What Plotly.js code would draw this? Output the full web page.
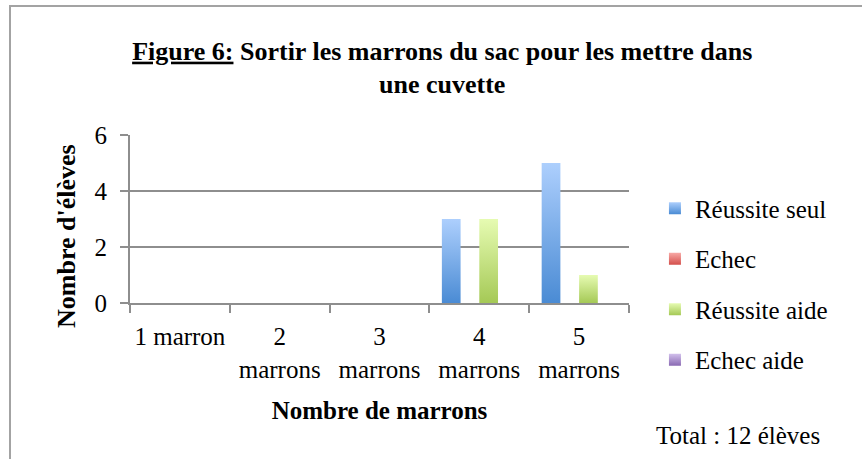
<!DOCTYPE html>
<html>
<head>
<meta charset="utf-8">
<script src="https://cdn.plot.ly/plotly-3.0.1.min.js"></script>
<style>
  html, body { margin: 0; padding: 0; background: #ffffff; overflow: hidden; }
  #wrap { position: relative; width: 862px; height: 459px; }
  #chart { width: 862px; height: 459px; }
  #frame { position: absolute; left: 9px; top: 5px; width: 900px; height: 500px;
           border: 2px solid #a3a3a3; pointer-events: none; }
</style>
</head>
<body>
<div id="wrap">
  <div id="chart"></div>
  <div id="frame"></div>
</div>
<script>
// ---- data ----
const categories = ["1 marron", "2<br>marrons", "3<br>marrons", "4<br>marrons", "5<br>marrons"];
const seriesNames = ["Réussite seul", "Echec", "Réussite aide", "Echec aide"];
const reussiteSeul = [0, 0, 0, 3, 5];
const echec = [0, 0, 0, 0, 0];
const reussiteAide = [0, 0, 0, 3, 1];
const echecAide = [0, 0, 0, 0, 0];
const yTickValues = [0, 2, 4, 6];

const titleText = "<u>Figure 6:</u> Sortir les marrons du sac pour les mettre dans<br>une cuvette";
const xTitle = "Nombre de marrons";
const yTitle = "Nombre d'élèves";
const totalText = "Total : 12 élèves";

// ---- styles ----
const baseColors = ["#6fa3e6", "#e87c79", "#c5e283", "#ad96d2"];
const gradients = [
  ["#adcffd", "#4a8bd4"],
  ["#f8a9a6", "#d4504c"],
  ["#e6fbb2", "#a5c956"],
  ["#d2c0ec", "#8a6ab3"]
];
const FONT = "'Liberation Serif', 'Times New Roman', Times, 'DejaVu Serif', serif";
const GRID = "#8e8e8e";

const values = [reussiteSeul, echec, reussiteAide, echecAide];
const traces = values.map((v, i) => ({
  type: "bar",
  name: seriesNames[i],
  x: categories,
  y: v,
  marker: { color: baseColors[i], line: { width: 0 } },
  legendgroup: "g" + i,
  hoverinfo: "x+y+name"
}));

const layout = {
  width: 862, height: 459,
  margin: { l: 130, r: 233, t: 135, b: 156 },
  paper_bgcolor: "#ffffff",
  plot_bgcolor: "#ffffff",
  font: { family: FONT, size: 25, color: "#000000" },
  barmode: "group",
  bargap: 0.25,
  bargroupgap: 0,
  title: {
    text: "<b>" + titleText + "</b>",
    font: { family: FONT, size: 26, color: "#000000" },
    x: 0.513, xanchor: "center", xref: "container",
    y: 0.87, yanchor: "top", yref: "container"
  },
  xaxis: {
    type: "category",
    showgrid: false,
    showline: true, linecolor: GRID, linewidth: 2,
    ticks: "outside", tickson: "boundaries", ticklen: 8, tickwidth: 2, tickcolor: GRID,
    tickangle: 0,
    ticklabelstandoff: 10,
    tickfont: { family: FONT, size: 25, color: "#000000" },
    title: { text: "<b>" + xTitle + "</b>", font: { family: FONT, size: 25, color: "#000000" }, standoff: 20 },
    automargin: false,
    fixedrange: true
  },
  yaxis: {
    range: [0, 6],
    tickvals: yTickValues,
    showgrid: true, gridcolor: GRID, gridwidth: 2,
    zeroline: false,
    showline: true, linecolor: GRID, linewidth: 2,
    ticks: "outside", ticklen: 8, tickwidth: 2, tickcolor: GRID,
    tickfont: { family: FONT, size: 25, color: "#000000" },
    ticklabelstandoff: 8,
    automargin: false,
    fixedrange: true
  },
  legend: {
    x: 1.052, xanchor: "left", xref: "paper",
    y: 0.7, yanchor: "top", yref: "paper",
    font: { family: FONT, size: 25, color: "#000000" },
    tracegroupgap: 15,
    maxheight: 420,
    bgcolor: "rgba(0,0,0,0)"
  },
  annotations: [
    {
      text: "<b>" + yTitle + "</b>", textangle: -90,
      xref: "paper", yref: "paper", x: -0.126, y: 0.4,
      xanchor: "center", yanchor: "middle", showarrow: false,
      font: { family: FONT, size: 26, color: "#000000" }
    },
    {
      text: totalText,
      xref: "paper", yref: "paper", x: 1.387, y: -0.786,
      xanchor: "right", yanchor: "middle", showarrow: false,
      font: { family: FONT, size: 25, color: "#000000" }
    }
  ],
  showlegend: true
};

Plotly.newPlot("chart", traces, layout, { displayModeBar: false, staticPlot: true }).then(gd => {
  // add vertical gradients to the bars and legend swatches
  const svg = gd.querySelector("svg.main-svg");
  const NS = "http://www.w3.org/2000/svg";
  let defs = svg.querySelector("defs");
  if (!defs) { defs = document.createElementNS(NS, "defs"); svg.insertBefore(defs, svg.firstChild); }
  gradients.forEach((g, i) => {
    const lg = document.createElementNS(NS, "linearGradient");
    lg.setAttribute("id", "grad" + i);
    lg.setAttribute("x1", "0"); lg.setAttribute("y1", "0");
    lg.setAttribute("x2", "0"); lg.setAttribute("y2", "1");
    [[0, g[0]], [1, g[1]]].forEach(([o, c]) => {
      const s = document.createElementNS(NS, "stop");
      s.setAttribute("offset", o); s.setAttribute("stop-color", c);
      lg.appendChild(s);
    });
    defs.appendChild(lg);
  });
  gd.querySelectorAll(".barlayer .trace.bars").forEach((t, i) => {
    t.querySelectorAll("path").forEach(p => { p.style.fill = "url(#grad" + i + ")"; });
  });
  gd.querySelectorAll(".legend .traces").forEach((t, i) => {
    t.querySelectorAll(".legendpoints path").forEach(p => { p.style.fill = "url(#grad" + i + ")"; });
  });
});
</script>
</body>
</html>
